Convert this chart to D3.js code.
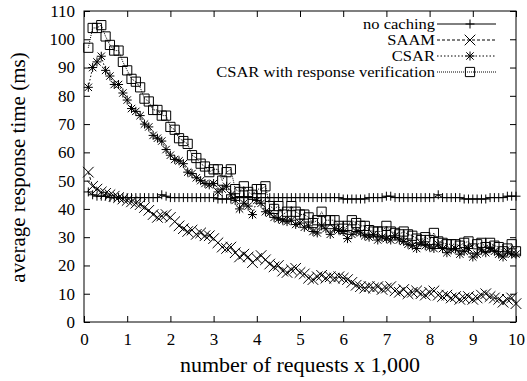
<!DOCTYPE html>
<html><head><meta charset="utf-8">
<script src="https://cdn.jsdelivr.net/npm/d3@7/dist/d3.min.js"></script>
<style>body{margin:0;background:#fff}</style>
</head><body><svg id="c" width="527" height="381"></svg>
<script>
// requests (x 1,000)
const requests = [0.1,0.2,0.3,0.4,0.5,0.6,0.7,0.8,0.9,1.0,1.1,1.2,1.3,1.4,1.5,1.6,1.7,1.8,1.9,2.0,
2.1,2.2,2.3,2.4,2.5,2.6,2.7,2.8,2.9,3.0,3.1,3.2,3.3,3.4,3.5,3.6,3.7,3.8,3.9,4.0,
4.1,4.2,4.3,4.4,4.5,4.6,4.7,4.8,4.9,5.0,5.1,5.2,5.3,5.4,5.5,5.6,5.7,5.8,5.9,6.0,
6.1,6.2,6.3,6.4,6.5,6.6,6.7,6.8,6.9,7.0,7.1,7.2,7.3,7.4,7.5,7.6,7.7,7.8,7.9,8.0,
8.1,8.2,8.3,8.4,8.5,8.6,8.7,8.8,8.9,9.0,9.1,9.2,9.3,9.4,9.5,9.6,9.7,9.8,9.9,10.0];

const noCaching = [46,45,44.5,44.5,44.5,44,44,44,44,44,44,44,44,44,44,44,44,45,44.5,44,
44,44,44,44,44,44,44,44,44,44,43.5,43.5,43.5,43.5,44,44,44,44,44,44,
44,44,44,44,44,44,44,44,44,44,44,44,44,44,44,44,44,44,44,43.5,
43.5,43.5,43.5,43.5,43.5,44,44,44,44,44.5,44.5,44,44,44,44,44,44,44,44,44,
44,45,44,44,44,44,44,43.5,43.5,43.5,43.5,43.5,43.5,44,44,44,44,44.5,44.5,44.5];

const saam = [53,48,47,46,45.5,45,44.5,44,43.5,43,42.5,42,41.5,40.5,39.5,38,37,37.5,38,37,
35.5,34,33,32,32.5,31,31.5,30.5,30.5,29.5,28,26.5,26,26.5,24.5,23,24,23,21,22.5,
23.5,22,20.5,19.5,20,18,17.5,18.5,19,17.5,17,15.5,15,16,16.5,15.5,16,15.5,16,15.5,
15,14,13,12.5,12,12.5,12,12.5,11.5,12,12.5,11,10.5,11.5,10,10.5,11,10,9.5,10.5,
11,9.5,9,9.5,8.5,9,8,8.5,9,8,8.5,9.5,10,9,8.5,8,7,8,8.5,6.5];

const csar = [83,90,92,94,89,87,84,84,81,78.5,75.5,74.5,73,70,69,66,65,64,61,59,
57.5,57,56,53,52.5,51,50,49,48.5,49,46,47,48,45,43,40,42,41,38,43,
42,39,38.5,37,36.5,36,35.5,36,34.5,35,33.5,34,32,31.5,34,33,31,33,32.5,32,
29.5,31,32,31.5,30.5,30,31,29,30,29.5,29,30.5,29,28.5,27.5,27,26,28,27,26.5,
26,27.5,26,24.5,25.5,26,24,25,26,23,24,25.5,24.5,26,25,24,23,25,24,24];

const csarVerif = [97,104,104,105,101,98,96,96,92,89,86,85,83,79,78,75,75,73,73,69,
68,65,64,63,59,58,56,55,53,54,54,50,53,54,47,46,48,46,45,47,
47,48,41,40,41,38,39,41,39,38,38,37,35,36,39,36,36,36,34,33,
34,36,35,34,34,32.5,32,32,32,34,32,31.5,31,32,31,30.5,29.5,29,30,29,
31.5,28.5,28,27.5,27.5,27.5,27,28,28.5,26,27.5,28,26.5,28,27,26.5,25,26,27.5,25];

const seriesNames = ["no caching","SAAM","CSAR","CSAR with response verification"];
const xTicks = [0,1,2,3,4,5,6,7,8,9,10];
const yTicks = [0,10,20,30,40,50,60,70,80,90,100,110];

const series = [
  {name: seriesNames[0], values: noCaching, marker: "plus", dash: null},
  {name: seriesNames[1], values: saam, marker: "cross", dash: "3,2"},
  {name: seriesNames[2], values: csar, marker: "star", dash: "1.5,2"},
  {name: seriesNames[3], values: csarVerif, marker: "square", dash: "1,1"}
];

const FONT = "Liberation Serif, Times New Roman, serif";
const svg = d3.select("#c");
const L = 84, R = 516, T = 11, B = 322;
const x = d3.scaleLinear().domain([0,10]).range([L,R]);
const y = d3.scaleLinear().domain([0,110]).range([B,T]);

function markerPath(type, cx, cy) {
  const s = 4.5, c = 5.3;
  const plus = `M${cx-s},${cy}H${cx+s}M${cx},${cy-s}V${cy+s}`;
  const cross = `M${cx-c},${cy-c}L${cx+c},${cy+c}M${cx-c},${cy+c}L${cx+c},${cy-c}`;
  if (type === "plus") return plus;
  if (type === "cross") return cross;
  if (type === "star") return `M${cx-s},${cy}H${cx+s}M${cx},${cy-s}V${cy+s}M${cx-3.7},${cy-3.7}L${cx+3.7},${cy+3.7}M${cx-3.7},${cy+3.7}L${cx+3.7},${cy-3.7}`;
  const q = 4.6;
  return `M${cx-q},${cy-q}H${cx+q}V${cy+q}H${cx-q}Z`;
}

// axes with inward ticks (mirrored)
const tk = 6;
const gx = svg.append("g").attr("transform", `translate(0,${B})`)
  .call(d3.axisBottom(x).tickValues(xTicks).tickSize(-tk).tickPadding(11).tickFormat(d3.format("d")));
const gxt = svg.append("g").attr("transform", `translate(0,${T})`)
  .call(d3.axisTop(x).tickValues(xTicks).tickSize(-tk).tickFormat(""));
const gy = svg.append("g").attr("transform", `translate(${L},0)`)
  .call(d3.axisLeft(y).tickValues(yTicks).tickSize(-tk).tickPadding(9).tickFormat(d3.format("d")));
const gyr = svg.append("g").attr("transform", `translate(${R},0)`)
  .call(d3.axisRight(y).tickValues(yTicks).tickSize(-tk).tickFormat(""));
[gx,gxt,gy,gyr].forEach(g => {
  g.select(".domain").remove();
  g.selectAll("line").attr("stroke","#000");
  g.attr("font-family", FONT).attr("font-size", 17);
  g.selectAll("text").attr("fill","#000").attr("font-family", FONT).attr("font-size", 17);
});

svg.append("rect").attr("x",L).attr("y",T).attr("width",R-L).attr("height",B-T)
  .attr("fill","none").attr("stroke","#000").attr("stroke-width",1);

// series
const line = d3.line().x((d,i) => x(requests[i])).y(d => y(d));
series.forEach(s => {
  svg.append("path").datum(s.values).attr("d", line).attr("fill","none")
    .attr("stroke","#000").attr("stroke-width",1).attr("stroke-dasharray", s.dash);
  svg.append("g").selectAll("path").data(s.values).join("path")
    .attr("d",(d,i) => markerPath(s.marker, x(requests[i]), y(d)))
    .attr("fill","none").attr("stroke","#000").attr("stroke-width",1);
});

// legend
series.forEach((s,i) => {
  const ly = 24 + i * 16;
  svg.append("g").attr("transform", `translate(435,${ly+5}) scale(1.14,1)`)
    .append("text").attr("x",0).attr("y",0).attr("text-anchor","end")
    .attr("font-family", FONT).attr("font-size",14.5).attr("fill","#000").text(s.name);
  svg.append("line").attr("x1",437).attr("x2",496).attr("y1",ly).attr("y2",ly)
    .attr("stroke","#000").attr("stroke-width",1).attr("stroke-dasharray", s.dash);
  svg.append("path").attr("d", markerPath(s.marker, 470, ly)).attr("fill","none").attr("stroke","#000");
});

// axis titles
svg.append("text").attr("x",(L+R)/2).attr("y",372).attr("text-anchor","middle")
  .attr("font-family", FONT).attr("font-size",22).attr("fill","#000").text("number of requests x 1,000");
svg.append("text").attr("transform",`translate(25,${(T+B)/2+1}) rotate(-90)`).attr("text-anchor","middle")
  .attr("font-family", FONT).attr("font-size",21).attr("fill","#000").text("average response time (ms)");
</script></body></html>
